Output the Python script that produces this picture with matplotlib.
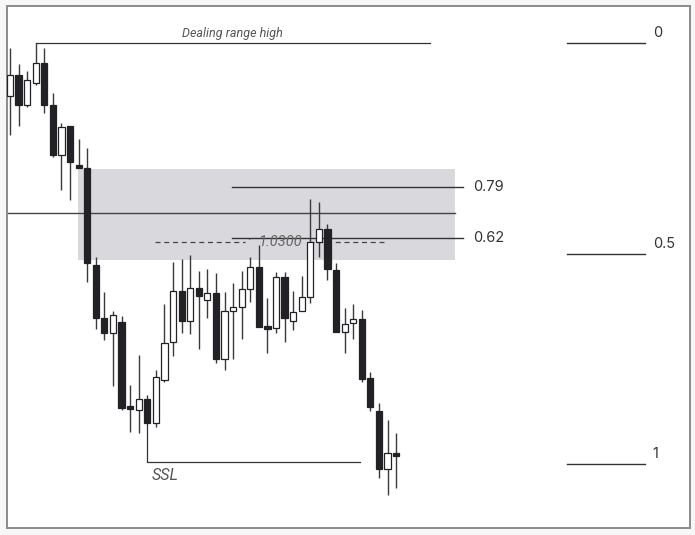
import numpy as np
import matplotlib.pyplot as plt
from matplotlib.patches import Rectangle

# OHLC (one row per candle)
opens = [1.0446, 1.0467, 1.0437, 1.0459, 1.0479, 1.0437, 1.0387, 1.0416, 1.0375, 1.0374,
         1.0277, 1.0224, 1.0209, 1.0220, 1.0135, 1.0132, 1.0143, 1.0119, 1.0162, 1.0200,
         1.0251, 1.0221, 1.0254, 1.0242, 1.0249, 1.0183, 1.0231, 1.0235, 1.0253, 1.0275,
         1.0215, 1.0214, 1.0265, 1.0221, 1.0231, 1.0245, 1.0300, 1.0313, 1.0272, 1.0210,
         1.0219, 1.0223, 1.0164, 1.0131, 1.0073, 1.0089]
highs = [1.0494, 1.0478, 1.0471, 1.0499, 1.0494, 1.0449, 1.0419, 1.0416, 1.0403, 1.0394,
         1.0285, 1.0250, 1.0231, 1.0226, 1.0157, 1.0187, 1.0147, 1.0172, 1.0238, 1.0280,
         1.0283, 1.0287, 1.0271, 1.0273, 1.0269, 1.0250, 1.0259, 1.0271, 1.0285, 1.0297,
         1.0244, 1.0270, 1.0270, 1.0251, 1.0266, 1.0343, 1.0340, 1.0318, 1.0279, 1.0234,
         1.0238, 1.0232, 1.0170, 1.0139, 1.0122, 1.0109]
lows = [1.0407, 1.0416, 1.0435, 1.0457, 1.0429, 1.0385, 1.0352, 1.0342, 1.0374, 1.0260,
        1.0213, 1.0202, 1.0156, 1.0132, 1.0110, 1.0109, 1.0119, 1.0115, 1.0160, 1.0186,
        1.0209, 1.0208, 1.0193, 1.0224, 1.0179, 1.0172, 1.0183, 1.0203, 1.0240, 1.0215,
        1.0189, 1.0209, 1.0200, 1.0212, 1.0231, 1.0239, 1.0285, 1.0262, 1.0210, 1.0189,
        1.0203, 1.0160, 1.0131, 1.0064, 1.0047, 1.0054]
closes = [1.0467, 1.0437, 1.0462, 1.0479, 1.0437, 1.0387, 1.0415, 1.0380, 1.0374, 1.0279,
          1.0224, 1.0209, 1.0227, 1.0134, 1.0133, 1.0143, 1.0119, 1.0165, 1.0199, 1.0251,
          1.0221, 1.0254, 1.0246, 1.0249, 1.0183, 1.0231, 1.0235, 1.0253, 1.0275, 1.0215,
          1.0213, 1.0265, 1.0224, 1.0230, 1.0245, 1.0300, 1.0313, 1.0273, 1.0210, 1.0218,
          1.0223, 1.0163, 1.0135, 1.0073, 1.0089, 1.0086]

# levels
range_high = 1.0499
range_low = 1.0078
ssl_level = 1.0080
zone_top, zone_bottom = 1.0373, 1.0282
mid_level = 1.0329
ote_levels = [0.79, 0.62]
ote_prices = [1.0355, 1.0304]
fib_levels = [0, 0.5, 1]
price_label = 1.0300

dark = "#222226"
line_c = "#333333"

fig = plt.figure(figsize=(6.95, 5.35), dpi=100, facecolor="#f7f7f7")
ax = fig.add_axes([7 / 695, 7 / 535, 683 / 695, 522 / 535])
ax.set_facecolor("white")
ax.set_xlim(-0.35, 79.25)
ax.set_ylim(1.0014, 1.0536)
ax.set_xticks([])
ax.set_yticks([])
for s in ax.spines.values():
    s.set_color("#8c8c8c")
    s.set_linewidth(1.4)

# premium zone box
ax.add_patch(Rectangle((7.9, zone_bottom), 44.0, zone_top - zone_bottom,
                       facecolor="#d9d9dd", edgecolor="none", zorder=0))
ax.plot([-0.35, 51.9], [mid_level, mid_level], color="#444444", lw=1.0, zorder=1)

# candles
w = 0.72
min_h = 0.00025
for i in range(len(opens)):
    o, h, l, c = opens[i], highs[i], lows[i], closes[i]
    ax.plot([i, i], [l, h], color="#3a3a3a", lw=1.0, zorder=2, solid_capstyle="butt")
    bottom = min(o, c)
    height = max(abs(c - o), min_h)
    if c >= o:
        ax.add_patch(Rectangle((i - w / 2, bottom), w, height, facecolor="white",
                               edgecolor=dark, lw=0.9, zorder=3))
    else:
        ax.add_patch(Rectangle((i - w / 2, bottom), w, height, facecolor=dark,
                               edgecolor=dark, lw=0.9, zorder=3))

# dealing range high
ax.plot([3, 49.0], [range_high, range_high], color=line_c, lw=0.9, zorder=1)
ax.text(25.9, range_high + 0.0009, "Dealing range high", ha="center", va="center",
        fontsize=9, style="italic", color="#555555", family=["Roboto", "DejaVu Sans"])

# SSL
ax.plot([16, 16, 40.8], [closes[16], ssl_level, ssl_level], color=line_c, lw=0.9, zorder=1)
ax.text(16.5, ssl_level - 0.0013, "SSL", ha="left", va="center", fontsize=11.5,
        style="italic", color="#555555", family=["Roboto", "DejaVu Sans"])

# 1.0300 dashed
ax.plot([16.9, 27.4], [price_label, price_label], color="#444444", lw=0.9,
        ls=(0, (4, 3)), zorder=1)
ax.plot([34.8, 43.7], [price_label, price_label], color="#444444", lw=0.9,
        ls=(0, (4, 3)), zorder=1)
ax.text(28.0, price_label, "·", ha="center", va="center", fontsize=10,
        color="#666666", family=["Roboto", "DejaVu Sans"])
ax.text(31.5, price_label, "1.0300", ha="center", va="center", fontsize=10.5,
        style="italic", color="#666666", family=["Roboto", "DejaVu Sans"])

# OTE levels
for lv, pr in zip(ote_levels, ote_prices):
    ax.plot([25.9, 52.8], [pr, pr], color=line_c, lw=1.0, zorder=1)
    ax.text(54.0, pr, f"{lv:.2f}", ha="left", va="center", fontsize=10.5,
            color="#333333", family=["Inter", "DejaVu Sans"])

# fib of dealing range
for f in fib_levels:
    pr = range_high - f * (range_high - range_low)
    ax.plot([64.9, 74.0], [pr, pr], color=line_c, lw=1.0)
    ax.text(74.9, pr + 0.001, f"{f:g}", ha="left", va="center", fontsize=10.5,
            color="#333333", family=["Inter", "DejaVu Sans"])

fig.savefig("out.png", dpi=100, facecolor=fig.get_facecolor())
